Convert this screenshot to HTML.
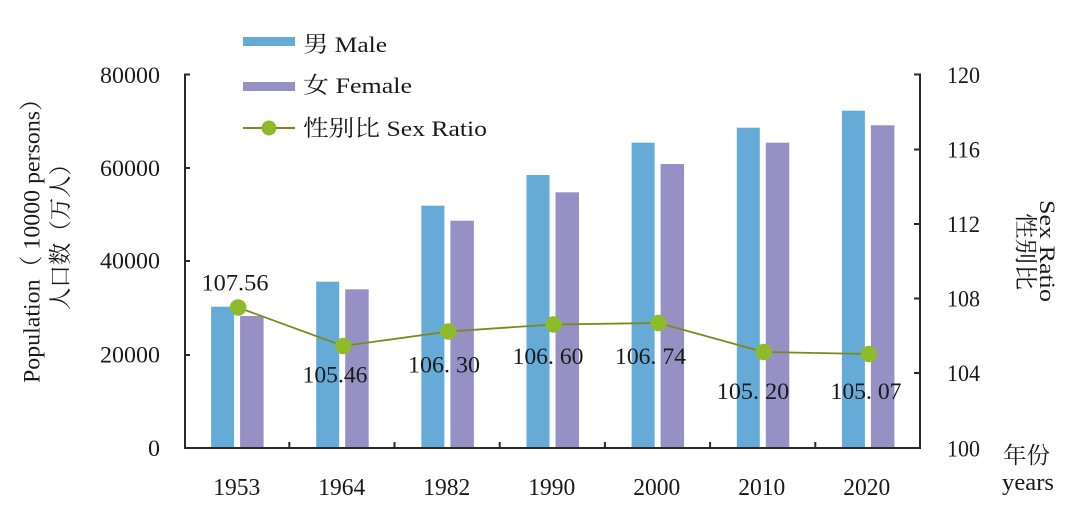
<!DOCTYPE html>
<html><head><meta charset="utf-8"><style>
html,body{margin:0;padding:0;background:#fff;}
svg{display:block;}
text{font-family:"Liberation Serif","Noto Serif CJK SC",serif;fill:#1a1a1a;}
.cj{font-family:"Liberation Serif","Noto Serif CJK SC","Noto Sans CJK SC",serif;}
</style></head><body>
<svg width="1080" height="505" viewBox="0 0 1080 505" xmlns="http://www.w3.org/2000/svg">
<rect width="1080" height="505" fill="#fff"/>
<!-- bars -->
<g fill="#66abd7">
<rect x="211.1" y="306.7" width="23" height="141.3"/>
<rect x="316.2" y="281.7" width="23" height="166.3"/>
<rect x="421.4" y="205.7" width="23" height="242.3"/>
<rect x="526.5" y="175" width="23" height="273"/>
<rect x="631.6" y="142.7" width="23" height="305.3"/>
<rect x="736.8" y="127.7" width="23" height="320.3"/>
<rect x="841.9" y="110.7" width="23" height="337.3"/>
</g>
<g fill="#9690c4">
<rect x="240.1" y="316" width="23.5" height="132"/>
<rect x="345.2" y="289.3" width="23.5" height="158.7"/>
<rect x="450.4" y="220.7" width="23.5" height="227.3"/>
<rect x="555.5" y="192.3" width="23.5" height="255.7"/>
<rect x="660.6" y="164" width="23.5" height="284"/>
<rect x="765.8" y="142.7" width="23.5" height="305.3"/>
<rect x="870.9" y="125.3" width="23.5" height="322.7"/>
</g>
<!-- axes -->
<g stroke="#2a2a2a" stroke-width="2" fill="none">
<path d="M190,74.5 H185 V448 H920 V74.5 H914"/>
<path d="M185,168 H190 M185,261 H190 M185,355 H190"/>
<path d="M919,149.5 H914 M919,224 H914 M919,298.5 H914 M919,373 H914"/>
<path d="M289.3,448 V442 M394.5,448 V442 M499.7,448 V442 M604.9,448 V442 M710.1,448 V442 M815.3,448 V442"/>
</g>
<!-- line -->
<polyline points="238.1,307.5 343.2,346 448.4,331.5 553.5,324.5 658.6,323 763.8,352 868.9,354" fill="none" stroke="#7b8a1c" stroke-width="1.8"/>
<g fill="#8dbb2b">
<circle cx="238.1" cy="307.5" r="8.3"/>
<circle cx="343.2" cy="346" r="8.3"/>
<circle cx="448.4" cy="331.5" r="8.3"/>
<circle cx="553.5" cy="324.5" r="8.3"/>
<circle cx="658.6" cy="323" r="8.3"/>
<circle cx="763.8" cy="352" r="8.3"/>
<circle cx="868.9" cy="354" r="8.3"/>
</g>
<!-- data labels -->
<g font-size="23.5" text-anchor="middle">
<text x="235" y="290.5" textLength="67" lengthAdjust="spacingAndGlyphs">107.56</text>
<text x="335" y="382.5" textLength="65" lengthAdjust="spacingAndGlyphs">105.46</text>
<text x="444" y="372.5" textLength="72" lengthAdjust="spacingAndGlyphs">106. 30</text>
<text x="548" y="364" textLength="71" lengthAdjust="spacingAndGlyphs">106. 60</text>
<text x="650.5" y="364" textLength="71" lengthAdjust="spacingAndGlyphs">106. 74</text>
<text x="753" y="399" textLength="72.5" lengthAdjust="spacingAndGlyphs">105. 20</text>
<text x="866" y="399" textLength="71" lengthAdjust="spacingAndGlyphs">105. 07</text>
</g>
<!-- left ticks labels -->
<g font-size="23.5" text-anchor="end">
<text x="160" y="83" textLength="60" lengthAdjust="spacingAndGlyphs">80000</text>
<text x="160" y="176" textLength="60" lengthAdjust="spacingAndGlyphs">60000</text>
<text x="160" y="268.5" textLength="60" lengthAdjust="spacingAndGlyphs">40000</text>
<text x="160" y="362.5" textLength="60" lengthAdjust="spacingAndGlyphs">20000</text>
<text x="160" y="456" textLength="12" lengthAdjust="spacingAndGlyphs">0</text>
</g>
<!-- right tick labels -->
<g font-size="23.5">
<text x="947" y="83" textLength="33" lengthAdjust="spacingAndGlyphs">120</text>
<text x="947" y="157.5" textLength="33" lengthAdjust="spacingAndGlyphs">116</text>
<text x="947" y="232" textLength="33" lengthAdjust="spacingAndGlyphs">112</text>
<text x="947" y="306.5" textLength="33" lengthAdjust="spacingAndGlyphs">108</text>
<text x="947" y="381" textLength="33" lengthAdjust="spacingAndGlyphs">104</text>
<text x="947" y="456.5" textLength="33" lengthAdjust="spacingAndGlyphs">100</text>
</g>
<!-- x labels -->
<g font-size="24" text-anchor="middle">
<text x="236.7" y="495" textLength="47" lengthAdjust="spacingAndGlyphs">1953</text>
<text x="341.7" y="495" textLength="47" lengthAdjust="spacingAndGlyphs">1964</text>
<text x="446.7" y="495" textLength="47" lengthAdjust="spacingAndGlyphs">1982</text>
<text x="551.7" y="495" textLength="47" lengthAdjust="spacingAndGlyphs">1990</text>
<text x="656.7" y="495" textLength="47" lengthAdjust="spacingAndGlyphs">2000</text>
<text x="761.7" y="495" textLength="47" lengthAdjust="spacingAndGlyphs">2010</text>
<text x="866.7" y="495" textLength="47" lengthAdjust="spacingAndGlyphs">2020</text>
</g>
<!-- right axis extras -->
<text class="cj" x="1003" y="463" font-size="23" textLength="47" lengthAdjust="spacingAndGlyphs">年份</text>
<text x="1002" y="490" font-size="24" textLength="52" lengthAdjust="spacingAndGlyphs">years</text>
<!-- left axis title -->
<text x="0" y="0" font-size="23.5" text-anchor="middle" transform="translate(39.5,235) rotate(-90)" textLength="296" lengthAdjust="spacingAndGlyphs">Population（ 10000 persons）</text>
<text class="cj" x="0" y="0" font-size="23" text-anchor="middle" transform="translate(68,231.5) rotate(-90)" textLength="157" lengthAdjust="spacingAndGlyphs">人口数（万人）</text>
<!-- right axis title -->
<text x="0" y="0" font-size="22" text-anchor="middle" transform="translate(1040,251) rotate(90)" textLength="102" lengthAdjust="spacingAndGlyphs">Sex Ratio</text>
<text class="cj" x="0" y="0" font-size="23" text-anchor="middle" transform="translate(1018,251.5) rotate(90)" textLength="77" lengthAdjust="spacingAndGlyphs">性别比</text>
<!-- legend -->
<rect x="243" y="37" width="52" height="9" fill="#66abd7"/>
<rect x="243" y="82" width="52" height="9" fill="#9690c4"/>
<line x1="243" y1="128" x2="295" y2="128" stroke="#7b8a1c" stroke-width="2"/>
<circle cx="269" cy="128" r="7.5" fill="#8dbb2b"/>
<g font-size="22.5">
<text class="cj" x="303" y="52" textLength="84" lengthAdjust="spacingAndGlyphs">男 Male</text>
<text class="cj" x="303" y="93" textLength="109" lengthAdjust="spacingAndGlyphs">女 Female</text>
<text class="cj" x="303" y="136" textLength="184" lengthAdjust="spacingAndGlyphs">性别比 Sex Ratio</text>
</g>
</svg>
</body></html>
